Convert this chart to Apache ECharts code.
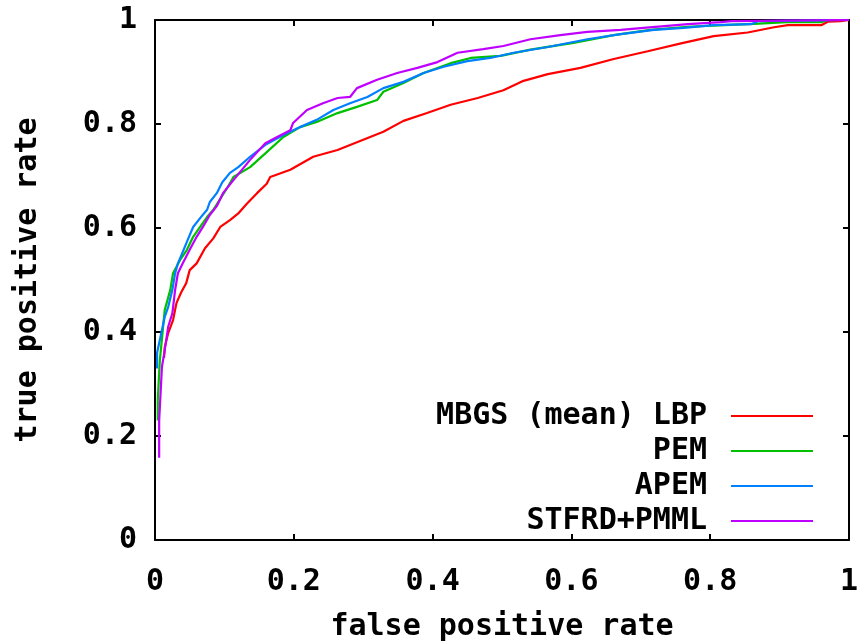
<!DOCTYPE html>
<html><head><meta charset="utf-8">
<script src="https://cdn.jsdelivr.net/npm/echarts@6/dist/echarts.min.js"></script>
<style>html,body{margin:0;padding:0;background:#fff}#c{width:864px;height:643px}</style>
</head><body><div id="c"></div>
<script>
const seriesNames = ['MBGS (mean) LBP', 'PEM', 'APEM', 'STFRD+PMML'];
const xTicks = [0, 0.2, 0.4, 0.6, 0.8, 1];
const yTicks = [0, 0.2, 0.4, 0.6, 0.8, 1];

const lbpFpr = [0.013,0.014,0.019,0.026,0.031,0.038,0.045,0.050,0.060,0.072,0.084,0.094,0.108,0.120,0.132,0.147,0.161,0.166,0.195,0.228,0.263,0.291,0.329,0.358,0.392,0.426,0.465,0.502,0.531,0.566,0.613,0.661,0.710,0.758,0.805,0.854,0.892,0.912,0.960,0.970,0.988,1.0];
const lbpTpr = [0.350,0.370,0.398,0.423,0.456,0.477,0.494,0.519,0.532,0.561,0.580,0.602,0.615,0.628,0.646,0.667,0.685,0.698,0.712,0.737,0.750,0.765,0.785,0.806,0.821,0.837,0.850,0.865,0.883,0.896,0.908,0.925,0.940,0.955,0.969,0.976,0.986,0.990,0.990,0.997,0.998,1.0];

const pemFpr = [0.004,0.004,0.007,0.014,0.022,0.026,0.036,0.046,0.055,0.065,0.075,0.084,0.094,0.104,0.113,0.137,0.161,0.185,0.209,0.233,0.263,0.291,0.320,0.329,0.358,0.387,0.426,0.455,0.498,0.541,0.603,0.661,0.714,0.768,0.820,0.870,0.910,0.960,0.970,1.0];
const pemTpr = [0.230,0.270,0.346,0.442,0.481,0.513,0.538,0.558,0.583,0.602,0.621,0.635,0.656,0.677,0.698,0.717,0.746,0.775,0.794,0.804,0.821,0.833,0.846,0.862,0.879,0.898,0.917,0.927,0.931,0.943,0.956,0.971,0.981,0.987,0.990,0.993,0.996,0.996,1.0,1.0];

const apemFpr = [0.003,0.003,0.010,0.014,0.019,0.025,0.029,0.033,0.040,0.048,0.055,0.065,0.075,0.079,0.089,0.097,0.108,0.120,0.137,0.159,0.185,0.209,0.233,0.257,0.281,0.306,0.329,0.358,0.387,0.416,0.450,0.483,0.517,0.566,0.623,0.671,0.719,0.762,0.805,0.859,0.870,1.0];
const apemTpr = [0.330,0.360,0.404,0.429,0.448,0.481,0.513,0.532,0.554,0.580,0.602,0.619,0.635,0.650,0.667,0.688,0.706,0.717,0.737,0.760,0.779,0.794,0.808,0.827,0.840,0.852,0.869,0.881,0.898,0.910,0.921,0.927,0.937,0.948,0.963,0.973,0.981,0.985,0.990,0.992,0.998,1.0];

const stfFpr = [0.006,0.006,0.010,0.014,0.019,0.025,0.029,0.033,0.040,0.050,0.060,0.069,0.079,0.089,0.098,0.113,0.137,0.159,0.176,0.195,0.199,0.219,0.242,0.263,0.281,0.291,0.320,0.349,0.378,0.407,0.436,0.473,0.502,0.541,0.584,0.623,0.671,0.704,0.768,0.815,0.830,1.0];
const stfTpr = [0.158,0.230,0.333,0.365,0.410,0.436,0.481,0.513,0.532,0.558,0.583,0.602,0.625,0.642,0.667,0.692,0.731,0.763,0.775,0.788,0.802,0.827,0.840,0.850,0.852,0.869,0.885,0.898,0.908,0.919,0.937,0.944,0.950,0.963,0.971,0.977,0.981,0.985,0.992,0.996,0.998,1.0];

const colors = ['#ff0000', '#00c000', '#0080ff', '#c000ff'];
const fprs = [lbpFpr, pemFpr, apemFpr, stfFpr];
const tprs = [lbpTpr, pemTpr, apemTpr, stfTpr];

const FONT = 'DejaVu Sans Mono';
const txt = {fontFamily: FONT, fontWeight: 'bold', fontSize: 30, color: '#000'};
const lineAx = {show: true, onZero: false, lineStyle: {color: '#000', width: 2}};
const tick = {show: true, inside: true, length: 6, lineStyle: {color: '#000', width: 2}};

const chart = echarts.init(document.getElementById('c'), null, {renderer: 'canvas'});
chart.setOption({
  animation: false,
  backgroundColor: '#fff',
  grid: {left: 155, top: 20, right: 15, bottom: 103, containLabel: false, outerBoundsMode: 'none'},
  xAxis: [{
    type: 'value', min: 0, max: 1, interval: 0.2,
    axisLine: lineAx, axisTick: tick, splitLine: {show: false},
    axisLabel: Object.assign({margin: 27, formatter: v => String(v)}, txt),
    name: 'false positive rate', nameLocation: 'middle', nameGap: 72,
    nameTextStyle: txt
  }, {
    type: 'value', min: 0, max: 1, interval: 0.2, position: 'top',
    axisLine: lineAx, axisTick: tick, axisLabel: {show: false}, splitLine: {show: false}
  }],
  yAxis: [{
    type: 'value', min: 0, max: 1, interval: 0.2,
    axisLine: lineAx, axisTick: tick, splitLine: {show: false},
    axisLabel: Object.assign({margin: 18, formatter: v => String(v)}, txt),
    name: 'true positive rate', nameLocation: 'middle', nameGap: 112,
    nameTextStyle: txt
  }, {
    type: 'value', min: 0, max: 1, interval: 0.2, position: 'right',
    axisLine: lineAx, axisTick: tick, axisLabel: {show: false}, splitLine: {show: false}
  }],
  legend: {
    orient: 'vertical', right: 46, top: 396, align: 'right',
    icon: 'rect', itemWidth: 82, itemHeight: 2, itemGap: 5,
    textStyle: Object.assign({padding: [0, 19, 0, 0]}, txt),
    data: seriesNames
  },
  series: seriesNames.map((n, i) => ({
    name: n, type: 'line', symbol: 'none', showSymbol: false,
    color: colors[i], lineStyle: {width: 2.2, color: colors[i]},
    data: fprs[i].map((x, j) => [x, tprs[i][j]])
  }))
});
</script></body></html>
